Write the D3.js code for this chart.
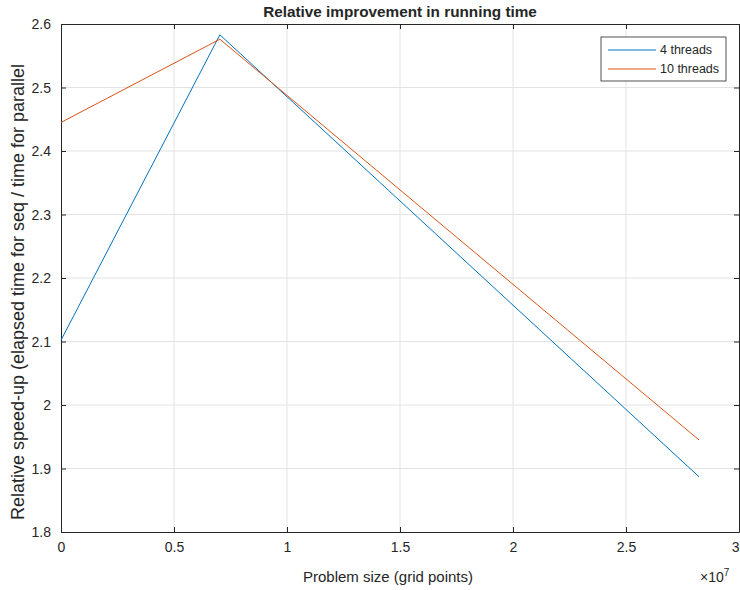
<!DOCTYPE html>
<html>
<head>
<meta charset="utf-8">
<script src="https://cdnjs.cloudflare.com/ajax/libs/d3/7.8.5/d3.min.js"></script>
<style>
  body { margin: 0; background: #fff; }
  svg text { font-family: "Liberation Sans", Arial, sans-serif; fill: #262626; }
</style>
</head>
<body>
<div id="chart"></div>
<script>
// problem sizes (grid points) and speed-ups
var sizes = [0, 7.03e6, 2.823e7]
var threads4 = [2.102, 2.583, 1.887]
var threads10 = [2.445, 2.576, 1.945]
var seriesNames = ["4 threads", "10 threads"]
var xTicks = [0, 0.5e7, 1e7, 1.5e7, 2e7, 2.5e7, 3e7]
var yTicks = [1.8, 1.9, 2.0, 2.1, 2.2, 2.3, 2.4, 2.5, 2.6]

var W = 740, H = 590
var margin = {top: 24, right: 1, bottom: 58, left: 61}
var width = W - margin.left - margin.right,
    height = H - margin.top - margin.bottom

var svg = d3.select("#chart").append("svg")
  .attr("width", W)
  .attr("height", H)

var g = svg.append("g").attr("transform", "translate(" + margin.left + "," + margin.top + ")")

var x = d3.scaleLinear().domain([0, 3e7]).range([0, width])
var y = d3.scaleLinear().domain([1.8, 2.6]).range([height, 0])

// grid
g.selectAll(".gx").data(xTicks.slice(1, -1)).enter().append("line")
  .attr("x1", d => x(d)).attr("x2", d => x(d))
  .attr("y1", 0).attr("y2", height)
  .attr("stroke", "#e3e3e3").attr("stroke-width", 1)
g.selectAll(".gy").data(yTicks.slice(1, -1)).enter().append("line")
  .attr("y1", d => y(d)).attr("y2", d => y(d))
  .attr("x1", 0).attr("x2", width)
  .attr("stroke", "#e3e3e3").attr("stroke-width", 1)

var fmtX = d => d3.format("~g")(d / 1e7)
var fmtY = d => d3.format("~g")(d)

// axes with inward ticks (MATLAB style)
var xAxis = d3.axisBottom(x).tickValues(xTicks).tickFormat(fmtX).tickSizeInner(-5).tickSizeOuter(0).tickPadding(10)
var yAxis = d3.axisLeft(y).tickValues(yTicks).tickFormat(fmtY).tickSizeInner(-5).tickSizeOuter(0).tickPadding(10)

var ax = g.append("g").attr("transform", "translate(0," + height + ")").call(xAxis)
var ay = g.append("g").call(yAxis)
var axTop = g.append("g").call(d3.axisTop(x).tickValues(xTicks).tickFormat("").tickSizeInner(-5).tickSizeOuter(0))
var ayRight = g.append("g").attr("transform", "translate(" + width + ",0)")
  .call(d3.axisRight(y).tickValues(yTicks).tickFormat("").tickSizeInner(-5).tickSizeOuter(0))

;[ax, ay, axTop, ayRight].forEach(function(a) {
  a.selectAll("path").attr("stroke", "#262626")
  a.selectAll("line").attr("stroke", "#262626")
  a.selectAll("text").style("font-size", "14px").attr("fill", "#262626")
})
ay.selectAll("text").attr("dy", "0.35em")
// last x label sits at the window edge; keep it inside
ax.selectAll(".tick text").filter(d => d === 3e7).attr("text-anchor", "end")

// lines
var line = d3.line()
  .x((d, i) => x(sizes[i]))
  .y(d => y(d))

g.append("path")
  .datum(threads4)
  .attr("fill", "none")
  .attr("stroke", "#0072BD")
  .attr("stroke-width", 1)
  .attr("d", line)

g.append("path")
  .datum(threads10)
  .attr("fill", "none")
  .attr("stroke", "#D95319")
  .attr("stroke-width", 1)
  .attr("d", line)

// title and labels
svg.append("text")
  .attr("x", margin.left + width / 2)
  .attr("y", 17)
  .attr("text-anchor", "middle")
  .style("font-size", "15.3px")
  .style("font-weight", "bold")
  .attr("fill", "#000")
  .text("Relative improvement in running time")

svg.append("text")
  .attr("x", 388)
  .attr("y", 582)
  .attr("text-anchor", "middle")
  .style("font-size", "15px")
  .text("Problem size (grid points)")

svg.append("text")
  .attr("transform", "translate(24,292) rotate(-90)")
  .attr("text-anchor", "middle")
  .style("font-size", "18px")
  .text("Relative speed-up (elapsed time for seq / time for parallel")

var exp = svg.append("text")
  .attr("x", 700)
  .attr("y", 582)
  .style("font-size", "14px")
exp.append("tspan").text("\u00d710")
exp.append("tspan").attr("dy", -6).style("font-size", "10px").text("7")

// legend
var leg = svg.append("g").attr("transform", "translate(601,37)")
leg.append("rect")
  .attr("width", 125).attr("height", 44)
  .attr("fill", "#fff").attr("stroke", "#262626").attr("stroke-width", 0.8)
var colors = ["#0072BD", "#D95319"]
seriesNames.forEach(function(name, i) {
  leg.append("line")
    .attr("x1", 7).attr("x2", 55)
    .attr("y1", 13 + i * 19).attr("y2", 13 + i * 19)
    .attr("stroke", colors[i]).attr("stroke-width", 1)
  leg.append("text")
    .attr("x", 59).attr("y", 13 + i * 19).attr("dy", "0.35em")
    .style("font-size", "12.5px")
    .text(name)
})
</script>
</body>
</html>
